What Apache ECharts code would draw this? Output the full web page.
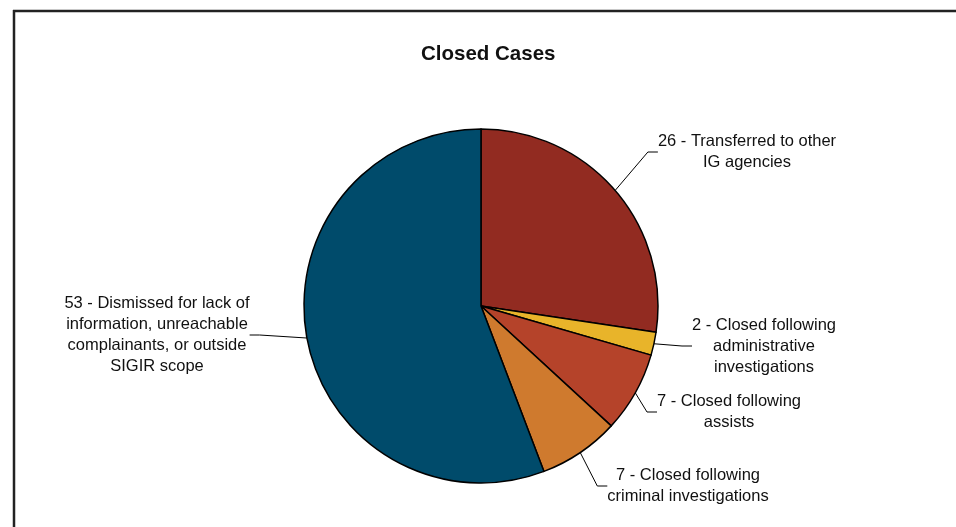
<!DOCTYPE html>
<html>
<head>
<meta charset="utf-8">
<script src="https://cdn.jsdelivr.net/npm/echarts@6/dist/echarts.min.js"></script>
<style>
  html, body { margin: 0; padding: 0; background: #fff; }
  #chart { width: 956px; height: 527px; }
</style>
</head>
<body>
<div id="chart"></div>
<script>
// data
const categories = [
  '26 - Transferred to other\nIG agencies',
  '2 - Closed following\nadministrative\ninvestigations',
  '7 - Closed following\nassists',
  '7 - Closed following\ncriminal investigations',
  '53 - Dismissed for lack of\ninformation, unreachable\ncomplainants, or outside\nSIGIR scope'
]
const values = [26, 2, 7, 7, 53]
const colors = ['#922b21', '#e8b42a', '#b5432a', '#cf7a2e', '#004b6b']

// where each label block sits (centre of the text)
const labelSpots = [[747, 152], [764, 346], [729, 412], [688, 486], [157, 335]]

const chart = echarts.init(document.getElementById('chart'))

chart.setOption({
  backgroundColor: '#fff',
  animation: false,
  title: {
    text: 'Closed Cases',
    left: 416,
    top: 39,
    textStyle: { fontFamily: 'Liberation Sans, Arial', fontSize: 20.5, fontWeight: 'bold', color: '#111' }
  },
  graphic: [
    { type: 'line', shape: { x1: 13, y1: 11, x2: 956, y2: 11 }, style: { stroke: '#222', lineWidth: 2.5 } },
    { type: 'line', shape: { x1: 14, y1: 10, x2: 14, y2: 527 }, style: { stroke: '#222', lineWidth: 2.5 } }
  ],
  series: [{
    type: 'pie',
    center: [481, 306],
    radius: 177,
    startAngle: 90,
    clockwise: true,
    data: values.map((v, i) => ({ value: v, name: categories[i], itemStyle: { color: colors[i] } })),
    itemStyle: { borderColor: '#000', borderWidth: 1.5 },
    label: {
      show: true,
      formatter: '{b}',
      fontFamily: 'Liberation Sans, Arial',
      fontSize: 16.5,
      lineHeight: 21,
      color: '#111',
      align: 'center'
    },
    labelLine: {
      show: true,
      length: 20,
      length2: 10,
      lineStyle: { color: '#000', width: 1 }
    },
    labelLayout: params => {
      const p = labelSpots[params.dataIndex]
      return { x: p[0], y: p[1], align: 'center', verticalAlign: 'middle' }
    },
    emphasis: { disabled: true }
  }]
})
</script>
</body>
</html>
